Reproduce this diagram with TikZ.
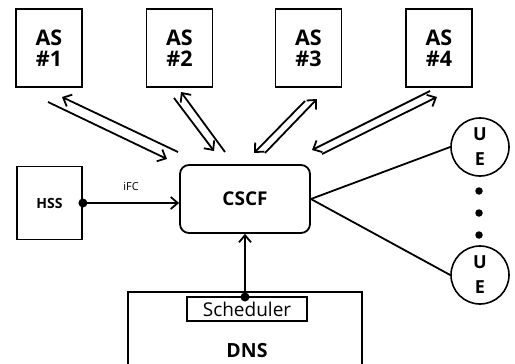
\documentclass[tikz,border=0pt]{standalone}
\usepackage{fontspec}
\setmainfont{Open Sans}
\usetikzlibrary{arrows.meta}
\begin{document}
\begin{tikzpicture}[x=1pt,y=-1pt,
  box/.style={draw,line width=1.8pt,inner sep=0pt,align=center},
  asbox/.style={box,minimum width=66pt,minimum height=78pt,font=\bfseries\fontsize{21.5}{21}\selectfont},
  uebox/.style={draw,circle,line width=1.6pt,minimum size=58pt,inner sep=0pt,align=center,font=\bfseries\fontsize{18}{25}\selectfont},
  dbl/.style={line width=1.8pt,-{Straight Barb[length=7pt,width=13pt]}},
  conn/.style={line width=1.8pt},
  arr/.style={line width=1.8pt,-{Straight Barb[length=7pt,width=12pt]}},
  dot/.style={circle,fill=black,inner sep=0pt,minimum size=#1}
]
\useasboundingbox (0,0) rectangle (515,364);

% AS boxes
\node[asbox] (as1) at (49,48) {AS\\\#1};
\node[asbox] (as2) at (179.5,48) {AS\\\#2};
\node[asbox] (as3) at (308.5,48) {AS\\\#3};
\node[asbox] (as4) at (439,48) {AS\\\#4};

% HSS, CSCF
\node[box,minimum width=65pt,minimum height=73pt,font=\bfseries\fontsize{14}{16}\selectfont] (hss) at (49.5,203) {HSS};
\node[box,rounded corners=9pt,minimum width=130pt,minimum height=68pt,font=\bfseries\fontsize{19}{21}\selectfont] (cscf) at (245,199) {CSCF};

% DNS (box open at the bottom edge of the picture)
\node[inner sep=0pt,minimum width=234pt,minimum height=72pt,anchor=north] (dns) at (245,292) {};
\draw[line width=1.8pt] (dns.south west) -- (dns.north west) -- (dns.north east) -- (dns.south east);
\node[font=\bfseries\fontsize{19.5}{21}\selectfont] (dnstext) at (247,351) {DNS};
\node[box,minimum width=120pt,minimum height=24pt,font=\fontsize{19}{20}\selectfont] (sched) at (247,309) {Scheduler};

% UEs
\node[uebox] (ue1) at (480,147) {U\\E};
\node[uebox] (ue2) at (480,275) {U\\E};
\node[dot=7.5pt] (d1) at (479,191) {};
\node[dot=7.5pt] (d2) at (479,213) {};
\node[dot=7.5pt] (d3) at (479,235) {};

% double arrows AS <-> CSCF
\coordinate (a1s) at (178,152); \coordinate (a1e) at (62,97);
\coordinate (b1s) at (48,102);  \coordinate (b1e) at (167,159);
\draw[dbl] (a1s) -- (a1e);
\draw[dbl] (b1s) -- (b1e);

\coordinate (a2s) at (225,152); \coordinate (a2e) at (181,92);
\coordinate (b2s) at (174,98);  \coordinate (b2e) at (214,151);
\draw[dbl] (a2s) -- (a2e);
\draw[dbl] (b2s) -- (b2e);

\coordinate (a3s) at (265,153); \coordinate (a3e) at (317,99);
\coordinate (b3s) at (305,101); \coordinate (b3e) at (254,153);
\draw[dbl] (a3s) -- (a3e);
\draw[dbl] (b3s) -- (b3e);

\coordinate (a4s) at (322,154); \coordinate (a4e) at (437,97);
\coordinate (b4s) at (430,91);  \coordinate (b4e) at (312,150);
\draw[dbl] (a4s) -- (a4e);
\draw[dbl] (b4s) -- (b4e);

% HSS -> CSCF
\node[dot=9pt] (hssdot) at (hss.east) {};
\draw[arr] (hss.east) -- (hss.east -| cscf.west);
\node[font=\fontsize{11}{12}\selectfont] (ifc) at (131,187) {iFC};

% DNS scheduler -> CSCF
\node[dot=9pt] (scheddot) at (245,297) {};
\draw[arr] (scheddot.center) -- (scheddot.center |- cscf.south);

% CSCF -- UEs
\draw[conn] (cscf.east) -- (ue1.west);
\draw[conn] (cscf.east) -- (ue2.west);
\end{tikzpicture}
\end{document}
